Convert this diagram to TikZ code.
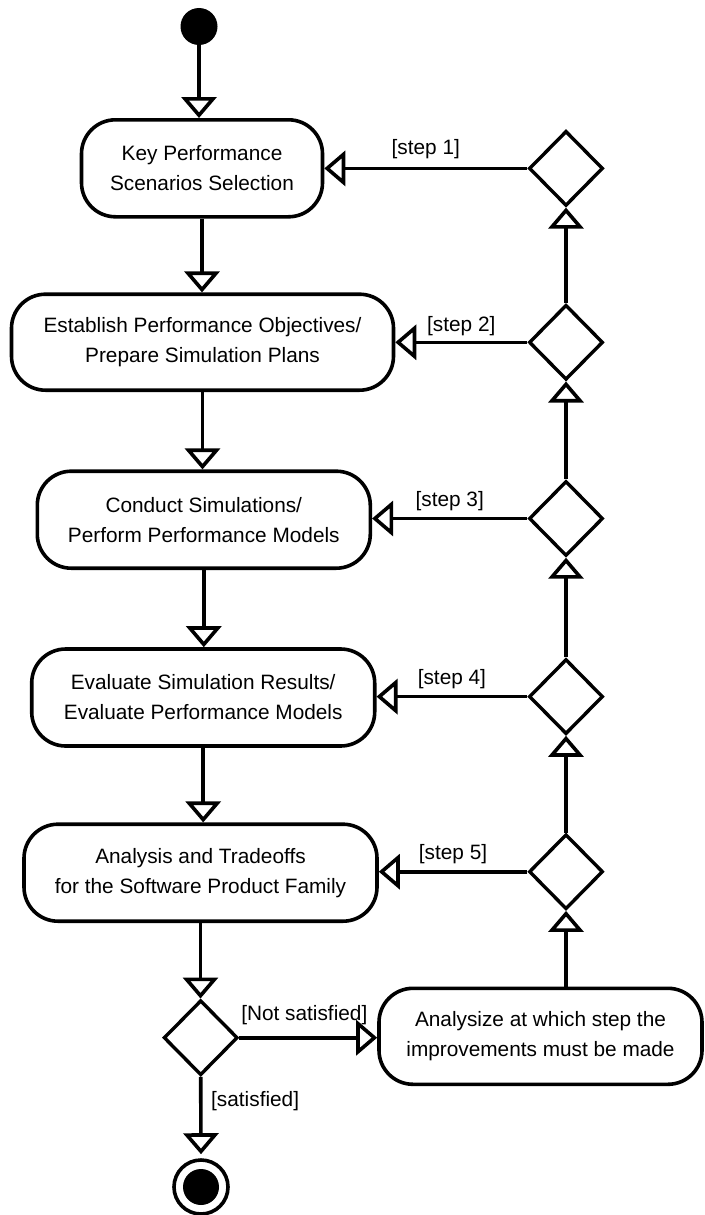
\documentclass[tikz,border=0pt]{standalone}
\usepackage{fontspec}
\setmainfont{Liberation Sans}
\usetikzlibrary{arrows.meta,shapes.geometric}
\tikzset{
  flow/.style={line width=3.6pt, -{Triangle[open,length=21pt,width=35pt]}},
  action/.style={draw, line width=3.6pt, rounded corners=34pt, align=center,
    inner sep=0pt, font=\fontsize{20.8}{30}\selectfont},
  choice/.style={draw, diamond, line width=3.4pt, minimum width=74pt,
    minimum height=75pt, inner sep=0pt},
  guard/.style={font=\fontsize{20.8}{25}\selectfont, inner sep=0pt, anchor=base},
}
\begin{document}
\begin{tikzpicture}[x=1pt,y=-1pt]
\useasboundingbox (0,0) rectangle (704,1215);

% initial and final states
\node[circle, fill=black, minimum size=37pt, inner sep=0pt] (start) at (199,26.5) {};
\node[circle, draw, line width=3.6pt, minimum size=54pt, inner sep=0pt] (final) at (201,1187) {};
\fill (final.center) circle[radius=18];

% activities
\node[action, minimum width=241pt, minimum height=97pt] (n1) at (202,168.3)
  {Key Performance\\Scenarios Selection};
\node[action, minimum width=382pt, minimum height=96pt] (n2) at (202.5,342.2)
  {Establish Performance Objectives/\\Prepare Simulation Plans};
\node[action, minimum width=333pt, minimum height=97pt] (n3) at (203.8,519.7)
  {Conduct Simulations/\\Perform Performance Models};
\node[action, minimum width=343pt, minimum height=97pt] (n4) at (203.2,697.5)
  {Evaluate Simulation Results/\\Evaluate Performance Models};
\node[action, minimum width=353pt, minimum height=97pt] (n5) at (200.5,872.7)
  {Analysis and Tradeoffs\\for the Software Product Family};
\node[action, minimum width=323pt, minimum height=96pt] (an) at (540.5,1036.3)
  {Analysize at which step the\\improvements must be made};

% decisions
\node[choice] (d1) at (566,168.4) {};
\node[choice] (d2) at (566,342.3) {};
\node[choice] (d3) at (566,518.5) {};
\node[choice] (d4) at (566,696.6) {};
\node[choice] (d5) at (566,871.7) {};
\node[choice] (dec) at (200.7,1037.7) {};

% main flow
\draw[flow] (start) -- (start |- n1.north);
\draw[flow] (n1.south) -- (n1.south |- n2.north);
\draw[flow] (n2.south) -- (n2.south |- n3.north);
\draw[flow] (n3.south) -- (n3.south |- n4.north);
\draw[flow] (n4.south) -- (n4.south |- n5.north);
\draw[flow] (n5.south) -- (n5.south |- dec.north);
\draw[flow, shorten >=4pt] (dec.south) -- (final.north);
\node[guard, anchor=base west] (sat) at (211,1106.7) {[satisfied]};
\draw[flow] (dec.east) -- (dec.east -| an.west)
  node[guard, midway, yshift=17pt, xshift=-4pt] {[Not satisfied]};

% feedback loop
\draw[flow] (d5.south |- an.north) -- (d5.south);
\draw[flow] (d5.north) -- (d4.south);
\draw[flow] (d4.north) -- (d3.south);
\draw[flow] (d3.north) -- (d2.south);
\draw[flow] (d2.north) -- (d1.south);
\draw[flow] (d1.west) -- (d1.west -| n1.east) node[guard, midway, yshift=14pt] {[step 1]};
\draw[flow] (d2.west) -- (d2.west -| n2.east) node[guard, midway, yshift=11pt] {[step 2]};
\draw[flow] (d3.west) -- (d3.west -| n3.east) node[guard, midway, yshift=12pt] {[step 3]};
\draw[flow] (d4.west) -- (d4.west -| n4.east) node[guard, midway, yshift=12pt] {[step 4]};
\draw[flow] (d5.west) -- (d5.west -| n5.east) node[guard, midway, yshift=12pt] {[step 5]};
\end{tikzpicture}
\end{document}
